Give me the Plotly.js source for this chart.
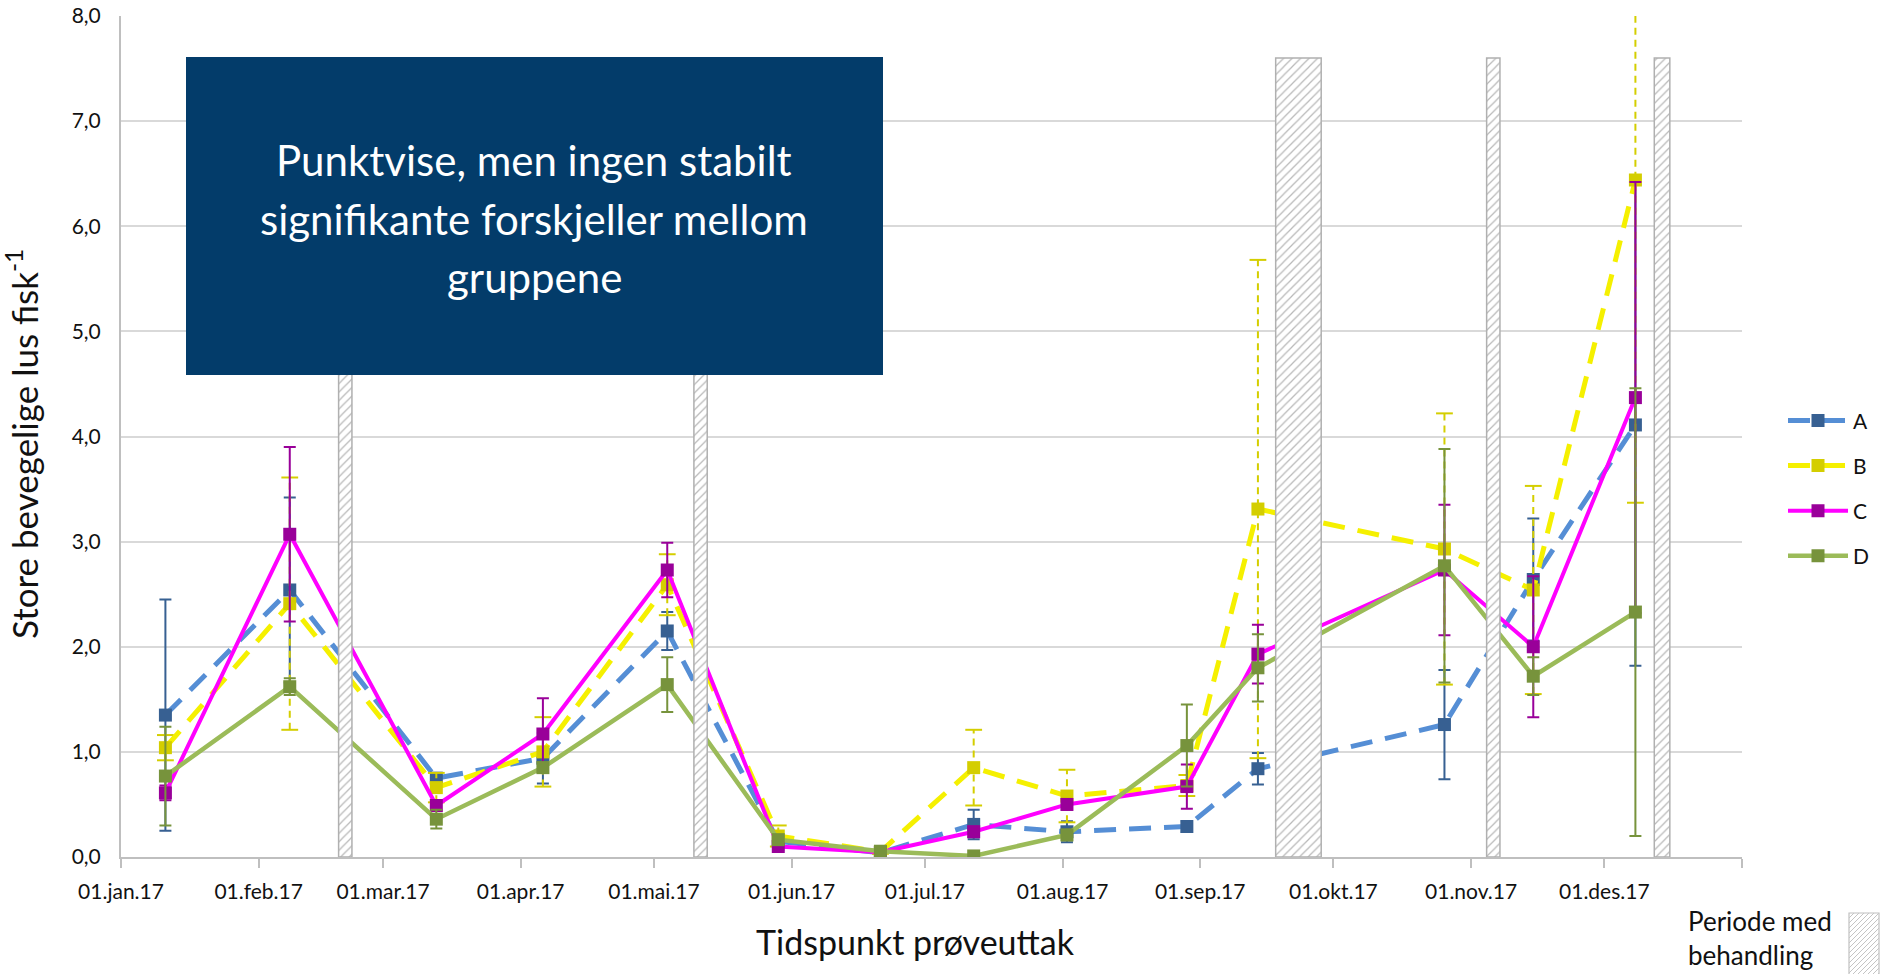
<!DOCTYPE html>
<html>
<head>
<meta charset="utf-8">
<script src="https://cdn.plot.ly/plotly-3.0.1.min.js"></script>
<style>html,body{margin:0;padding:0;background:#fff;}#chart{width:1883px;height:974px;}</style>
</head>
<body>
<div id="chart"></div>
<script>
// ---- data ----
const sampleDates = ['2017-01-11','2017-02-08','2017-03-13','2017-04-06','2017-05-04','2017-05-29','2017-06-21','2017-07-12','2017-08-02','2017-08-29','2017-09-14','2017-10-26','2017-11-15','2017-12-08'];
const seriesA = [1.35, 2.54, 0.75, 0.94, 2.15, 0.15, 0.04, 0.31, 0.24, 0.29, 0.84, 1.26, 2.64, 4.11];
const errA    = [1.10, 0.88, 0.05, 0.24, 0.18, 0.05, 0.02, 0.14, 0.10, 0.05, 0.15, 0.52, 0.58, 2.29];
const seriesB = [1.04, 2.41, 0.66, 1.00, 2.59, 0.20, 0.05, 0.85, 0.58, 0.68, 3.31, 2.93, 2.54, 6.44];
const errB    = [0.12, 1.20, 0.14, 0.33, 0.29, 0.10, 0.02, 0.36, 0.25, 0.10, 2.37, 1.29, 0.99, 3.07];
const seriesC = [0.61, 3.07, 0.49, 1.17, 2.73, 0.10, 0.045, 0.24, 0.50, 0.67, 1.93, 2.73, 2.00, 4.37];
const errC    = [0.07, 0.83, 0.05, 0.34, 0.26, 0.03, 0.02, 0.05, 0.05, 0.21, 0.28, 0.62, 0.67, 2.05];
const seriesD = [0.77, 1.62, 0.36, 0.85, 1.64, 0.165, 0.055, 0.01, 0.21, 1.06, 1.80, 2.77, 1.72, 2.33];
const errD    = [0.47, 0.08, 0.09, 0.05, 0.26, 0.03, 0.02, 0.01, 0.05, 0.39, 0.32, 1.11, 0.18, 2.13];

const treatStart = ['2017-02-19 00:00','2017-05-10 00:00','2017-09-18 00:00','2017-11-04 12:00','2017-12-12 06:00'];
const treatEnd   = ['2017-02-22 00:00','2017-05-13 00:00','2017-09-28 06:00','2017-11-07 12:00','2017-12-15 18:00'];
const treatTop   = [7.6, 7.6, 7.6, 7.6, 7.6];

const monthTicks  = ['2017-01-01','2017-02-01','2017-03-01','2017-04-01','2017-05-01','2017-06-01','2017-07-01','2017-08-01','2017-09-01','2017-10-01','2017-11-01','2017-12-01','2018-01-01'];
const monthLabels = ['01.jan.17','01.feb.17','01.mar.17','01.apr.17','01.mai.17','01.jun.17','01.jul.17','01.aug.17','01.sep.17','01.okt.17','01.nov.17','01.des.17',''];

const boxLines = ['Punktvise, men ingen stabilt','signifikante forskjeller mellom','gruppene'];
const xTitle = 'Tidspunkt prøveuttak';
const yTitle = 'Store bevegelige lus fisk<sup>-1</sup>';
const treatLabel = 'Periode med<br>behandling';

// ---- helpers ----
function ms(s){ const p = s.split(' '); return Date.parse(p[0]+'T'+(p[1]||'00:00')+':00Z'); }
const FONT = 'Lato, "Open Sans", sans-serif';
const M = {l: 121, r: 141, t: 16, b: 117}, W = 1883, H = 974;
const PW = W - M.l - M.r, PH = H - M.t - M.b;
const px = X => (X - M.l) / PW;          // pixel -> paper x
const py = Y => (H - M.b - Y) / PH;      // pixel -> paper y

// B has dashed error bars: built as a trace from the data
const bx = [], by = [];
sampleDates.forEach((d,i)=>{ bx.push(d,d,null); by.push(seriesB[i]-errB[i], seriesB[i]+errB[i], null); });

const traces = [
  {x: sampleDates, y: seriesA, name: 'A', legendgroup: 'a', type: 'scatter', mode: 'lines+markers',
   line: {color: '#558ED5', width: 5, dash: '22px,13px'},
   marker: {symbol: 'square', size: 13, color: '#376092'},
   error_y: {type: 'data', array: errA, visible: true, color: '#376092', thickness: 2, width: 6}},
  {x: bx, y: by, type: 'scatter', mode: 'lines+markers', showlegend: false, hoverinfo: 'skip',
   line: {color: '#D4CE00', width: 2, dash: '7px,5px'},
   marker: {symbol: 'line-ew', size: 12, line: {color: '#D4CE00', width: 2}}},
  {x: sampleDates, y: seriesB, name: 'B', legendgroup: 'b', type: 'scatter', mode: 'lines+markers',
   line: {color: '#F5F000', width: 5, dash: '22px,13px'},
   marker: {symbol: 'square', size: 13, color: '#D4CE00'}},
  {x: sampleDates, y: seriesC, name: 'C', legendgroup: 'c', type: 'scatter', mode: 'lines+markers',
   line: {color: '#FF00FF', width: 4},
   marker: {symbol: 'square', size: 13, color: '#990099'},
   error_y: {type: 'data', array: errC, visible: true, color: '#990099', thickness: 2, width: 6}},
  {x: sampleDates, y: seriesD, name: 'D', legendgroup: 'd', type: 'scatter', mode: 'lines+markers',
   line: {color: '#9BBB59', width: 4.5},
   marker: {symbol: 'square', size: 13, color: '#77933C'},
   error_y: {type: 'data', array: errD, visible: true, color: '#77933C', thickness: 2, width: 6}},
  {x: treatStart.map((s,i)=>(ms(s)+ms(treatEnd[i]))/2), y: treatTop,
   width: treatStart.map((s,i)=>ms(treatEnd[i])-ms(s)),
   type: 'bar', xaxis: 'x2', yaxis: 'y2', name: 'Periode med behandling', showlegend: false, hoverinfo: 'skip',
   marker: {color: '#ffffff', line: {color: '#b0b0b0', width: 1.5},
            pattern: {shape: '/', fgcolor: '#b8b8b8', bgcolor: '#ffffff', size: 6, solidity: 0.2, fillmode: 'replace'}}}
];

const annotations = boxLines.map((t,i)=>({
  xref: 'paper', yref: 'paper', x: px(534), y: py(160 + i*58.5), xanchor: 'center', yanchor: 'middle',
  text: t, showarrow: false, font: {family: FONT, size: 42, color: '#ffffff'}
}));
annotations.push({xref: 'paper', yref: 'paper', x: px(1686), y: py(903), xanchor: 'left', yanchor: 'top', align: 'left',
  text: treatLabel, showarrow: false, font: {family: FONT, size: 26, color: '#111'}});
annotations.push({xref: 'paper', yref: 'paper', x: px(915), y: py(942), xanchor: 'center', yanchor: 'middle',
  text: xTitle, showarrow: false, font: {family: FONT, size: 34, color: '#111'}});
annotations.push({xref: 'paper', yref: 'paper', x: px(22), y: py(444), xanchor: 'center', yanchor: 'middle',
  textangle: -90, text: yTitle, showarrow: false, font: {family: FONT, size: 35, color: '#111'}});

// legend swatch for the hatched treatment period (drawn in the margin)
const sw = {x0: 1849, x1: 1879, y0: 913, y1: 990};
const shapes = [
  {type: 'rect', xref: 'paper', yref: 'paper', x0: px(534-348), x1: px(534+349), y0: py(375), y1: py(57),
   fillcolor: '#033c6a', line: {width: 0}, layer: 'above'},
  {type: 'rect', xref: 'paper', yref: 'paper', x0: px(sw.x0), x1: px(sw.x1), y0: py(sw.y1), y1: py(sw.y0),
   fillcolor: '#ffffff', line: {color: '#c0c0c0', width: 1.2}, layer: 'above'}
];
for (let c = sw.x0 + sw.y0 + 5; c < sw.x1 + sw.y1; c += 5) {
  const xa = Math.max(sw.x0, c - sw.y1), xb = Math.min(sw.x1, c - sw.y0);
  if (xb <= xa) continue;
  shapes.push({type: 'line', xref: 'paper', yref: 'paper', x0: px(xa), y0: py(c - xa), x1: px(xb), y1: py(c - xb),
               line: {color: '#c4c4c4', width: 1}, layer: 'above'});
}

const layout = {
  width: W, height: H,
  margin: Object.assign({autoexpand: false}, M),
  paper_bgcolor: '#ffffff', plot_bgcolor: '#ffffff',
  separators: ',.',
  font: {family: FONT, color: '#111'},
  hovermode: false,
  showlegend: true,
  barmode: 'overlay',
  xaxis: {type: 'date', range: ['2017-01-01','2018-01-01'], tickvals: monthTicks, ticktext: monthLabels,
          ticks: 'outside', ticklen: 9, tickwidth: 2, tickcolor: '#bfbfbf', showgrid: false,
          showline: true, linecolor: '#bfbfbf', linewidth: 2, zeroline: false,
          tickfont: {family: FONT, size: 21, color: '#111'}, ticklabelstandoff: 6},
  yaxis: {range: [0, 8], dtick: 1, tickformat: '.1f', ticks: '', showgrid: true, gridcolor: '#d9d9d9', gridwidth: 2,
          showline: true, linecolor: '#bfbfbf', linewidth: 2, zeroline: false,
          tickfont: {family: FONT, size: 21, color: '#111'}, ticklabelstandoff: 14},
  xaxis2: {type: 'date', range: ['2017-01-01','2018-01-01'], overlaying: 'x', visible: false},
  yaxis2: {range: [0, 8], overlaying: 'y', visible: false},
  legend: {x: px(1783), xanchor: 'left', y: 0.543, yanchor: 'top', itemwidth: 60, tracegroupgap: 14.8,
           traceorder: 'grouped', font: {family: FONT, size: 21, color: '#111'}, bgcolor: 'rgba(0,0,0,0)'},
  shapes: shapes,
  annotations: annotations
};

Plotly.newPlot('chart', traces, layout, {displayModeBar: false, staticPlot: true});
</script>
</body>
</html>
